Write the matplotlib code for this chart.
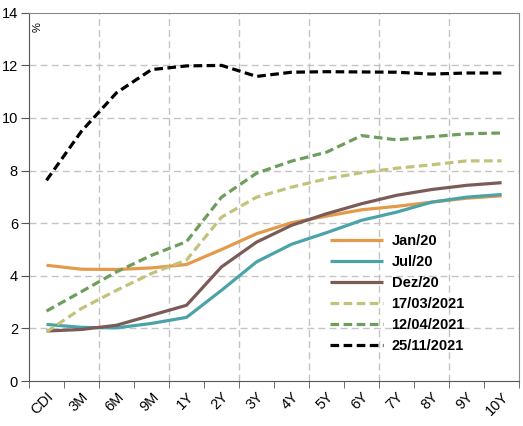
import matplotlib
matplotlib.use("Agg")
import matplotlib.pyplot as plt
import numpy as np

plt.rcParams["font.family"] = ["Liberation Sans", "DejaVu Sans"]

# Yield curve (%), by tenor
tenors = ["CDI", "3M", "6M", "9M", "1Y", "2Y", "3Y", "4Y", "5Y", "6Y", "7Y", "8Y", "9Y", "10Y"]

jan20 = [4.40, 4.25, 4.24, 4.30, 4.43, 5.00, 5.60, 6.02, 6.27, 6.51, 6.64, 6.80, 6.95, 7.04]
jul20 = [2.15, 2.04, 2.02, 2.19, 2.42, 3.45, 4.53, 5.20, 5.64, 6.11, 6.42, 6.80, 6.99, 7.09]
dez20 = [1.90, 1.96, 2.12, 2.50, 2.88, 4.34, 5.28, 5.92, 6.36, 6.74, 7.06, 7.28, 7.44, 7.54]
mar21 = [1.87, 2.76, 3.45, 4.09, 4.60, 6.23, 6.99, 7.37, 7.69, 7.92, 8.09, 8.22, 8.37, 8.37]
apr21 = [2.66, 3.40, 4.15, 4.78, 5.30, 6.99, 7.90, 8.36, 8.70, 9.33, 9.17, 9.29, 9.40, 9.43]
nov21 = [7.63, 9.50, 10.96, 11.84, 11.98, 12.00, 11.58, 11.74, 11.76, 11.75, 11.74, 11.67, 11.71, 11.71]

SERIES = [
    ("Jan/20", jan20, "#E59A4B", "-"),
    ("Jul/20", jul20, "#4BA3A8", "-"),
    ("Dez/20", dez20, "#7B5B58", "-"),
    ("17/03/2021", mar21, "#C4C27A", (0, (2.7, 1.4))),
    ("12/04/2021", apr21, "#6E9E5C", (0, (2.7, 1.4))),
    ("25/11/2021", nov21, "#000000", (0, (2.7, 1.4))),
]

fig = plt.figure(figsize=(5.23, 4.26), dpi=100)
ax = fig.add_axes([0.0555, 0.1056, 0.937, 0.8644])

x = np.arange(len(tenors)) + 0.5
for label, vals, color, ls in SERIES:
    ax.plot(x, vals, color=color, ls=ls, lw=2.3, label=label,
            solid_capstyle="butt", dash_capstyle="butt")

ax.set_xlim(0, len(tenors))
ax.set_ylim(0, 14)

# grid: dashed light gray
for gx in range(2, len(tenors), 2):
    ax.axvline(gx, color="#c4c4c4", lw=1, ls=(0, (5, 3)), zorder=0)
for gy in range(2, 14, 2):
    ax.axhline(gy, color="#c4c4c4", lw=1, ls=(0, (5, 3)), zorder=0)

ax.set_xticks(x)
ax.set_xticklabels(tenors, rotation=45, ha="right", rotation_mode="anchor", fontsize=10.5)
ax.set_xticks(np.arange(len(tenors) + 1), minor=True)
ax.tick_params(axis="x", which="major", length=0, pad=6)
ax.tick_params(axis="x", which="minor", length=5, color="#555555", direction="out")
ax.set_yticks(range(0, 15, 2))
ax.tick_params(axis="y", length=6, color="#555555", labelsize=10.5, pad=2)

for side in ("left", "bottom"):
    ax.spines[side].set_color("#555555")
for side in ("top", "right"):
    ax.spines[side].set_color("#8a8a8a")

ax.text(0.008, 0.975, "%", transform=ax.transAxes, rotation=90, fontsize=8,
        ha="left", va="top")

ax.legend(loc="upper left", bbox_to_anchor=(0.6, 0.419), frameon=False,
          prop={"weight": "bold", "size": 10.5}, handlelength=3.6,
          handletextpad=0.6, labelspacing=0.48, borderpad=0)

fig.savefig("out.png", dpi=100)
